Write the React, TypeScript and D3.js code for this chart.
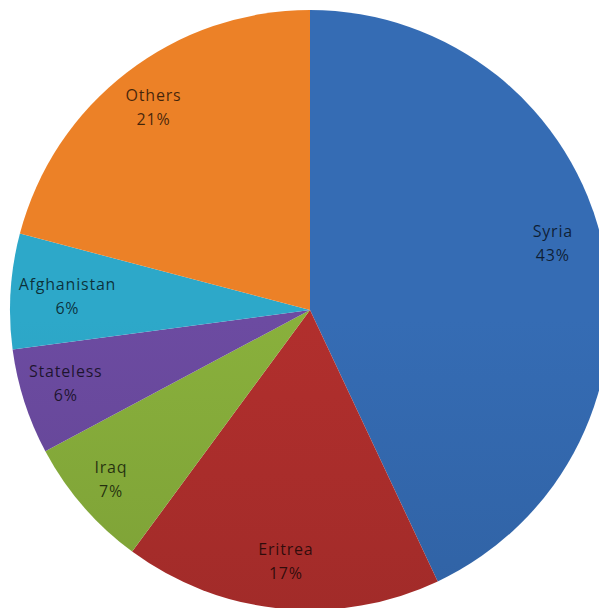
import React from "react";
import * as d3 from "d3";

const categories = ["Syria", "Eritrea", "Iraq", "Stateless", "Afghanistan", "Others"];
const values = [43.0, 17.1, 7.1, 5.7, 6.2, 20.9];
const percentLabels = ["43%", "17%", "7%", "6%", "6%", "21%"];
const colors = ["#3266ab", "#a82d2b", "#82a739", "#664799", "#2b9fbf", "#e07a25"];
// label anchor: [angle in degrees clockwise from top, radius fraction]
const labelAnchors: [number, number][] = [
  [74.5, 0.84],
  [185.5, 0.84],
  [229.7, 0.87],
  [253.3, 0.85],
  [273.3, 0.81],
  [322.4, 0.855],
];

const W = 599;
const H = 608;
const cx = 310;
const cy = 310;
const R = 300;

export default function App() {
  const pie = d3
    .pie<number>()
    .sort(null)
    .value((d) => d)
    .startAngle(0)
    .endAngle(2 * Math.PI);
  const arcs = pie(values);
  const arc = d3.arc<d3.PieArcDatum<number>>().innerRadius(0).outerRadius(R);

  return (
    <svg
      width={W}
      height={H}
      style={{ position: "absolute", left: 0, top: 0, background: "#fff" }}
      fontFamily="'Open Sans', sans-serif"
    >
      <defs>
        {colors.map((c, i) => {
          const col = d3.color(c)!;
          return (
            <linearGradient
              key={i}
              id={`g${i}`}
              gradientUnits="userSpaceOnUse"
              x1={cx}
              y1={cy - R}
              x2={cx}
              y2={cy + R}
            >
              <stop offset="0" stopColor={col.brighter(0.15).formatHex()} />
              <stop offset="1" stopColor={col.darker(0.4).formatHex()} />
            </linearGradient>
          );
        })}
      </defs>
      <g transform={`translate(${cx},${cy})`}>
        {arcs.map((a, i) => (
          <path key={categories[i]} d={arc(a) || ""} fill={`url(#g${i})`} />
        ))}
        {arcs.map((a, i) => {
          const [deg, rf] = labelAnchors[i];
          const ang = (deg * Math.PI) / 180;
          const x = Math.sin(ang) * R * rf;
          const y = -Math.cos(ang) * R * rf;
          return (
            <text
              key={"t" + i}
              x={x}
              y={y}
              textAnchor="middle"
              fontSize={16}
              letterSpacing={0.8}
              fill="#000"
              fillOpacity={0.72}
            >
              <tspan x={x} dy={-6}>
                {categories[i]}
              </tspan>
              <tspan x={x} dy={24}>
                {percentLabels[i]}
              </tspan>
            </text>
          );
        })}
      </g>
    </svg>
  );
}
